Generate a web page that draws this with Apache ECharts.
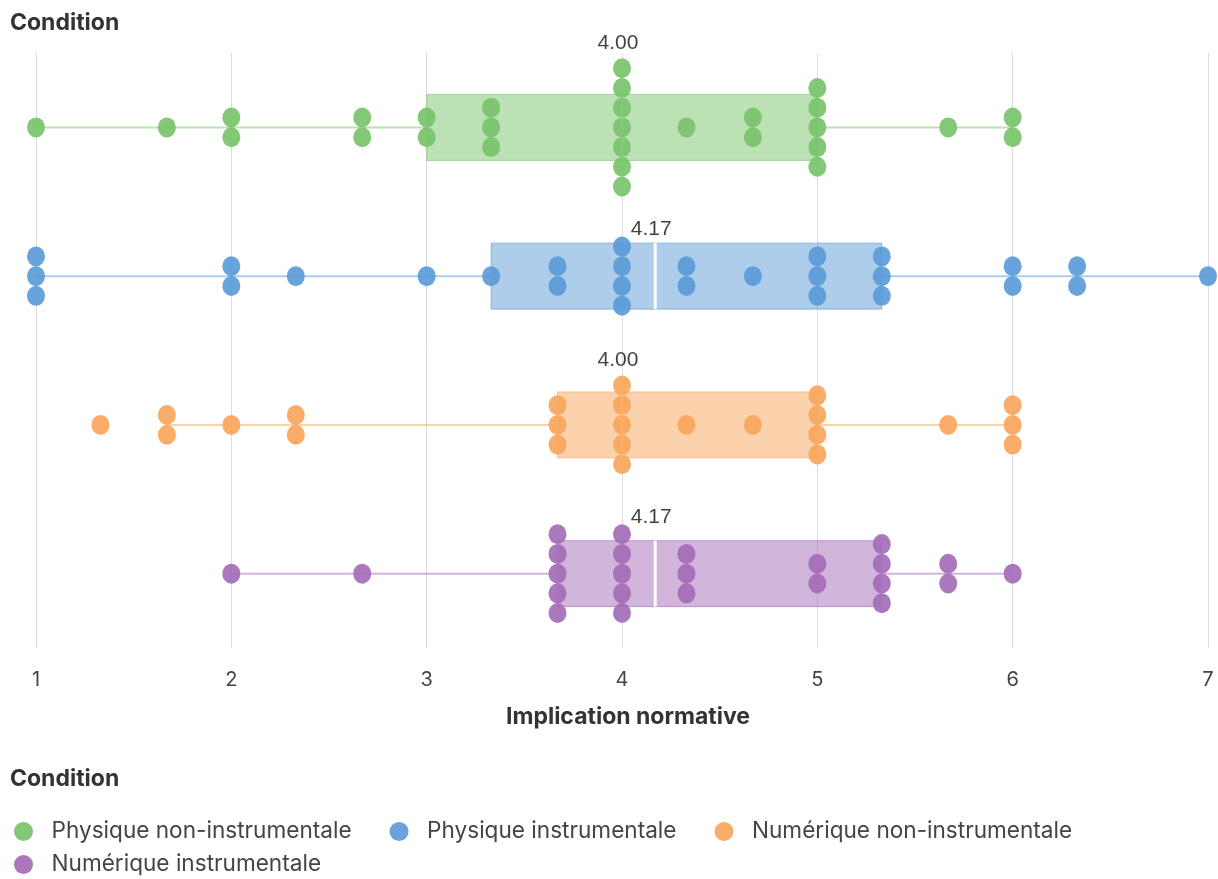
<!DOCTYPE html>
<html>
<head>
<meta charset="utf-8">
<script src="https://cdn.jsdelivr.net/npm/echarts@6/dist/echarts.min.js"></script>
<style>
  html, body { margin: 0; padding: 0; background: #fff; }
  #main { width: 1218px; height: 879px; }
</style>
</head>
<body>
<div id="main"></div>
<script>
// groupes (conditions)
var conditions = ['Physique non-instrumentale', 'Physique instrumentale', 'Numérique non-instrumentale', 'Numérique instrumentale'];
var colors = ['#78c36b', '#5b9bd8', '#f9a65b', '#a46cb8'];

// scores individuels
var physNonInstr = [1, 1.67, 2, 2, 2.67, 2.67, 3, 3, 3.33, 3.33, 3.33, 4, 4, 4, 4, 4, 4, 4, 4.33, 4.67, 4.67, 5, 5, 5, 5, 5, 5.67, 6, 6];
var physInstr = [1, 1, 1, 2, 2, 2.33, 3, 3.33, 3.67, 3.67, 4, 4, 4, 4, 4.33, 4.33, 4.67, 5, 5, 5, 5.33, 5.33, 5.33, 6, 6, 6.33, 6.33, 7];
var numNonInstr = [1.33, 1.67, 1.67, 2, 2.33, 2.33, 3.67, 3.67, 3.67, 4, 4, 4, 4, 4, 4.33, 4.67, 5, 5, 5, 5, 5.67, 6, 6, 6];
var numInstr = [2, 2.67, 3.67, 3.67, 3.67, 3.67, 3.67, 4, 4, 4, 4, 4, 4.33, 4.33, 4.33, 5, 5, 5.33, 5.33, 5.33, 5.33, 5.67, 5.67, 6];
var scores = [physNonInstr, physInstr, numNonInstr, numInstr];

// boites (quartiles, mediane, moustaches)
var q1 = [3, 3.33, 3.67, 3.67];
var medians = [4.00, 4.17, 4.00, 4.17];
var q3 = [5, 5.33, 5, 5.33];
var whiskerLow = [1, 1, 1.67, 2];
var whiskerHigh = [6, 7, 6, 6];

var xTicks = [1, 2, 3, 4, 5, 6, 7];

var STEP = 19.7; // ecart vertical entre points empiles

function rgba(hex, a) {
  var n = parseInt(hex.slice(1), 16);
  return 'rgba(' + (n >> 16 & 255) + ',' + (n >> 8 & 255) + ',' + (n & 255) + ',' + a + ')';
}

function stackCount(arr, v) {
  return arr.filter(function (x) { return Math.abs(x - v) < 0.01; }).length;
}

// points empiles
var dotSeries = conditions.map(function (name, i) {
  var seen = {};
  var data = scores[i].map(function (v) {
    var n = stackCount(scores[i], v);
    var k = seen[v] || 0;
    seen[v] = k + 1;
    return { value: [v, i], symbolOffset: [0, (k - (n - 1) / 2) * STEP] };
  });
  return {
    name: name,
    type: 'scatter',
    z: 5,
    symbol: 'circle',
    symbolSize: [18, 20],
    itemStyle: { color: colors[i], opacity: 0.92 },
    data: data
  };
});

var boxData = conditions.map(function (c, i) {
  return [i, q1[i], medians[i], q3[i], whiskerLow[i], whiskerHigh[i]];
});

var boxSeries = {
  name: 'boxes',
  type: 'custom',
  z: 2,
  encode: { x: [1, 2, 3, 4, 5], y: 0 },
  data: boxData,
  renderItem: function (params, api) {
    var i = api.value(0);
    var pLo = api.coord([api.value(4), i]);
    var pQ1 = api.coord([api.value(1), i]);
    var pMed = api.coord([api.value(2), i]);
    var pQ3 = api.coord([api.value(3), i]);
    var pHi = api.coord([api.value(5), i]);
    var h = 66;
    var c = colors[i];
    return {
      type: 'group',
      children: [
        { type: 'line', shape: { x1: pLo[0], y1: pLo[1], x2: pQ1[0], y2: pQ1[1] }, style: { stroke: rgba(c, 0.5), lineWidth: 2 } },
        { type: 'line', shape: { x1: pQ3[0], y1: pQ3[1], x2: pHi[0], y2: pHi[1] }, style: { stroke: rgba(c, 0.5), lineWidth: 2 } },
        { type: 'rect', shape: { x: pQ1[0], y: pQ1[1] - h / 2, width: pQ3[0] - pQ1[0], height: h }, style: { fill: rgba(c, 0.5), stroke: rgba(c, 0.6), lineWidth: 1 } },
        { type: 'line', shape: { x1: pMed[0], y1: pMed[1] - h / 2, x2: pMed[0], y2: pMed[1] + h / 2 }, style: { stroke: '#fff', lineWidth: 3 } }
      ]
    };
  }
};

var labelSeries = {
  name: 'medianes',
  type: 'scatter',
  z: 10,
  symbolSize: 0,
  silent: true,
  data: medians.map(function (m, i) {
    var exact = stackCount(scores[i], m);
    var n = exact || stackCount(scores[i], 4);
    var off = (n - 1) / 2 * STEP + 10 + (exact ? 15 : 7);
    return {
      value: [m, i],
      label: { offset: [-4, -off] }
    };
  }),
  label: {
    show: true,
    position: 'inside',
    formatter: function (p) { return p.value[0].toFixed(2); },
    fontFamily: 'Liberation Sans',
    fontSize: 21,
    color: '#111'
  }
};

var myChart = echarts.init(document.getElementById('main'));

var option = {
  backgroundColor: '#fff',
  animation: false,
  title: [
    { text: 'Condition', left: 10, top: 12, padding: 0, textStyle: { fontFamily: 'Inter', fontSize: 23, fontWeight: 'bold', color: '#333' } },
    { text: 'Condition', left: 10, top: 768, padding: 0, textStyle: { fontFamily: 'Inter', fontSize: 23, fontWeight: 'bold', color: '#333' } }
  ],
  legend: [
    {
      data: conditions.slice(0, 3),
      left: 14, top: 820, padding: 0,
      icon: 'circle', itemWidth: 46, itemHeight: 19, itemGap: 38,
      textStyle: { fontFamily: 'Inter', fontSize: 22.6, color: '#444' }
    },
    {
      data: conditions.slice(3),
      left: 14, top: 853, padding: 0,
      icon: 'circle', itemWidth: 46, itemHeight: 19, itemGap: 38,
      textStyle: { fontFamily: 'Inter', fontSize: 22.6, color: '#444' }
    }
  ],
  grid: { left: 36, right: 10, top: 53, bottom: 231 },
  xAxis: {
    type: 'value',
    min: xTicks[0],
    max: xTicks[xTicks.length - 1],
    interval: 1,
    name: 'Implication normative',
    nameLocation: 'middle',
    nameGap: 58,
    nameTextStyle: { fontFamily: 'Inter', fontSize: 23, fontWeight: 'bold', color: '#333', padding: [0, 0, 0, 12] },
    axisLine: { show: false },
    axisTick: { show: false },
    axisLabel: { fontFamily: 'Inter', fontSize: 20, color: '#444', margin: 22 },
    splitLine: { show: true, lineStyle: { color: '#dcdcdc', width: 1 } }
  },
  yAxis: {
    type: 'category',
    data: conditions,
    inverse: true,
    show: false
  },
  series: [boxSeries].concat(dotSeries, [labelSeries])
};

myChart.setOption(option);

window.onresize = () => {
  myChart.resize()
}
</script>
</body>
</html>
